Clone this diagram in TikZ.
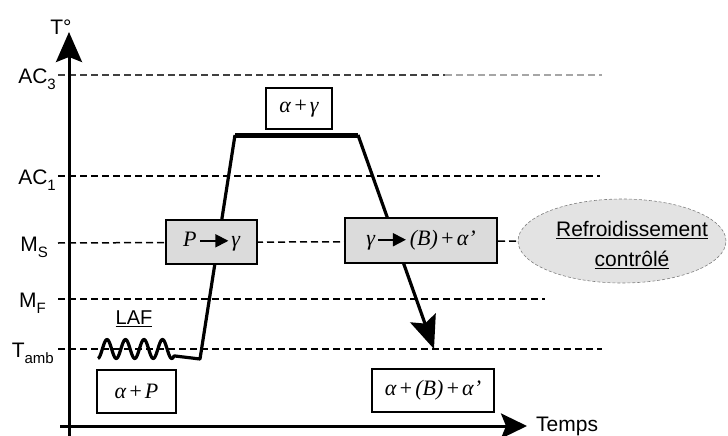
\documentclass[tikz,border=0pt]{standalone}
\usepackage{fontspec}
\setmainfont{Liberation Sans}
\newfontfamily\boxfont{Liberation Serif}
\usetikzlibrary{arrows.meta,shapes.geometric}
\newcommand{\bigarrow}{\tikz[baseline=-0.6ex,x=1pt,y=1pt]\draw[line width=1.8pt,-{Triangle[length=13pt,width=13pt]}] (0,0) -- (28,0);}
\newcommand{\subtx}[1]{\raisebox{-0.3em}{\fontsize{15}{15}\selectfont #1}}
\newcommand{\pl}{\kern2pt+\kern2pt}
\begin{document}
\begin{tikzpicture}[x=1pt,y=-1pt,
  axis/.style={line width=3pt},
  guide/.style={line width=1.5pt, dash pattern=on 7pt off 4pt},
  curve/.style={line width=3.2pt, line join=round},
  phase/.style={draw, line width=2.5pt, fill=gray!28, inner sep=0pt,
    font=\boxfont\itshape\fontsize{22}{24}\selectfont},
  state/.style={draw, line width=1.2pt, fill=white, inner sep=0pt,
    font=\boxfont\itshape\fontsize{22}{24}\selectfont},
  lbl/.style={font=\fontsize{21}{25}\selectfont, inner sep=0pt}]
\useasboundingbox (0,0) rectangle (728,436);

% guide coordinates
\coordinate (g3a) at (58,75);  \coordinate (g3b) at (445,75); \coordinate (g3c) at (602,75);
\coordinate (g1a) at (58,176); \coordinate (g1b) at (600,176);
\coordinate (gsa) at (58,243);
\coordinate (gfa) at (58,299); \coordinate (gfb) at (545,299);
\coordinate (gta) at (58,349); \coordinate (gtb) at (602,349);

% ellipse
\node[draw=gray, densely dashed, line width=0.6pt, fill=gray!22,
  shape=ellipse, minimum width=208pt, minimum height=84pt, inner sep=0pt] (ell) at (622,241) {};
\node[lbl, align=center, font=\fontsize{21}{30}\selectfont] (ellt) at (632,245)
  {\underline{Refroidissement}\\\underline{contrôlé}};

% dashed guides
\draw[guide, black!75] (g3a) -- (g3b);
\draw[guide, black!35] (g3b) -- (g3c);
\draw[guide] (g1a) -- (g1b);
\draw[guide] (gsa) -- (ell.west);
\draw[guide] (gfa) -- (gfb);
\draw[guide] (gta) -- (gtb);

% axes
\coordinate (yb) at (69,436); \coordinate (yt) at (69,32);
\coordinate (xl) at (60,426); \coordinate (xr) at (527,426);
\draw[axis,-{Stealth[length=30pt,width=26pt,inset=5pt]}] (yb) -- (yt);
\draw[axis,-{Stealth[length=26pt,width=25pt,inset=5pt]}] (xl) -- (xr);

% axis labels
\node[lbl] (tdeg) at (61,27) {T°};
\node[lbl, anchor=base west] (temps) at (536,431) {Temps};
\node[lbl, anchor=base east] (ac3) at (56,83) {AC\subtx{3}};
\node[lbl, anchor=base east] (ac1) at (56,184) {AC\subtx{1}};
\node[lbl, anchor=base east] (ms) at (48,251) {M\subtx{S}};
\node[lbl, anchor=base east] (mf) at (46,307) {M\subtx{F}};
\node[lbl, anchor=base east] (tamb) at (54,357) {T\subtx{amb}};

% thermal path
\coordinate (f1) at (200,359);
\coordinate (r1) at (235,135);
\coordinate (r2) at (358,135);
\coordinate (end) at (434,349);
\draw[curve] plot[domain=98:174, samples=120, smooth] ({\x},{349-9.5*cos((\x-107)*19.459)}) -- (f1) -- (r1);
\draw[line width=5pt] (r1) -- (r2);
\draw[curve,-{Stealth[length=33pt,width=27pt,inset=6pt]}] (r2) -- (end);

\node[lbl, font=\fontsize{20}{24}\selectfont] (laf) at (134,319) {\underline{LAF}};

% boxes
\node[phase, minimum width=91pt, minimum height=44pt] (pg) at (211.5,242) {P\kern3pt\bigarrow\kern2pt γ};
\node[phase, minimum width=152pt, minimum height=45pt] (gb) at (421,240.5) {γ\kern2pt\bigarrow\kern3pt(B)\pl α’};
\node[state, minimum width=66pt, minimum height=41pt] (ag) at (299,108.5) {α\pl γ};
\node[state, minimum width=79pt, minimum height=43pt] (ap) at (136.5,391.5) {α\pl P};
\node[state, minimum width=122pt, minimum height=43pt] (aba) at (433,390.5) {α\pl (B)\pl α’};
\end{tikzpicture}
\end{document}
